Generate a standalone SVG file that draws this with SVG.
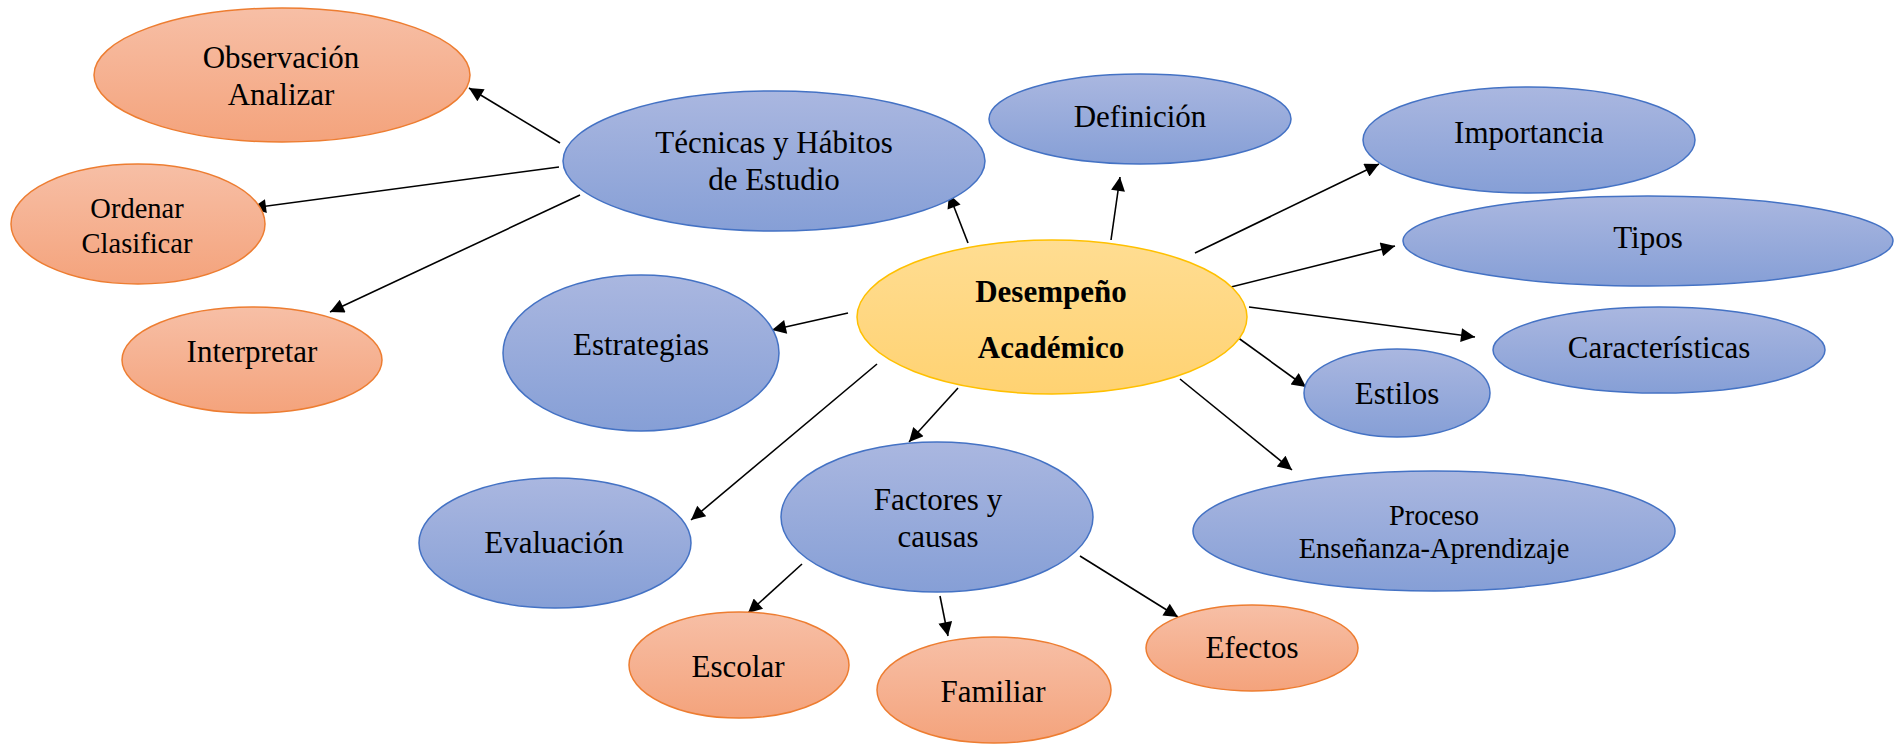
<svg xmlns="http://www.w3.org/2000/svg" width="1902" height="744" viewBox="0 0 1902 744">
<defs>
<linearGradient id="gb" x1="0" y1="0" x2="0" y2="1"><stop offset="0" stop-color="#AAB7E0"/><stop offset="1" stop-color="#869FD6"/></linearGradient>
<linearGradient id="go" x1="0" y1="0" x2="0" y2="1"><stop offset="0" stop-color="#F7BFA6"/><stop offset="1" stop-color="#F4A37C"/></linearGradient>
<linearGradient id="gy" x1="0" y1="0" x2="0" y2="1"><stop offset="0" stop-color="#FFDD92"/><stop offset="1" stop-color="#FFD272"/></linearGradient>
<marker id="ah" viewBox="0 0 10 10" refX="10" refY="5" markerWidth="17" markerHeight="14" markerUnits="userSpaceOnUse" orient="auto"><path d="M0,0 L10,5 L0,10 z" fill="#000"/></marker>
<style>
.b{fill:url(#gb);stroke:#4472C4;stroke-width:1.5}
.o{fill:url(#go);stroke:#ED7D31;stroke-width:1.5}
.y{fill:url(#gy);stroke:#FFC000;stroke-width:1.5}
text{font-family:"Liberation Serif","Times New Roman",serif;font-size:31px;fill:#000;text-anchor:middle}
.s{font-size:28.5px}
.bd{font-weight:bold}
.c line{stroke:#000;stroke-width:1.6;marker-end:url(#ah)}
</style>
</defs>
<g class="c" id="connectors">
<line x1="560" y1="143" x2="469" y2="88"/>
<line x1="559" y1="167" x2="252" y2="208"/>
<line x1="580" y1="195" x2="330" y2="312"/>
<line x1="968" y1="243" x2="949" y2="194"/>
<line x1="848" y1="313" x2="772" y2="330"/>
<line x1="1111" y1="240" x2="1120" y2="177"/>
<line x1="1195" y1="253" x2="1379" y2="164"/>
<line x1="1227" y1="288" x2="1395" y2="246"/>
<line x1="1249" y1="307" x2="1475" y2="337"/>
<line x1="1237" y1="337" x2="1306" y2="387"/>
<line x1="1180" y1="379" x2="1292" y2="470"/>
<line x1="877" y1="364" x2="691" y2="520"/>
<line x1="958" y1="388" x2="909" y2="442"/>
<line x1="802" y1="564" x2="748" y2="613"/>
<line x1="940" y1="596" x2="948" y2="636"/>
<line x1="1080" y1="556" x2="1178" y2="617"/>
</g>
<g id="observacion"><ellipse class="o" cx="282" cy="75" rx="188" ry="67"/><text x="281" y="68">Observación</text><text x="281" y="105">Analizar</text></g>
<g id="tecnicas"><ellipse class="b" cx="774" cy="161" rx="211" ry="70"/><text x="774" y="153">Técnicas y Hábitos</text><text x="774" y="190">de Estudio</text></g>
<g id="ordenar"><ellipse class="o" cx="138" cy="224" rx="127" ry="60"/><text class="s" x="137" y="218">Ordenar</text><text class="s" x="137" y="253">Clasificar</text></g>
<g id="interpretar"><ellipse class="o" cx="252" cy="360" rx="130" ry="53"/><text x="252" y="362">Interpretar</text></g>
<g id="estrategias"><ellipse class="b" cx="641" cy="353" rx="138" ry="78"/><text x="641" y="355">Estrategias</text></g>
<g id="desempeno"><ellipse class="y" cx="1052" cy="317" rx="195" ry="77"/><text class="bd" x="1051" y="302">Desempeño</text><text class="bd" x="1051" y="358">Académico</text></g>
<g id="definicion"><ellipse class="b" cx="1140" cy="119" rx="151" ry="45"/><text x="1140" y="127">Definición</text></g>
<g id="importancia"><ellipse class="b" cx="1529" cy="140" rx="166" ry="53"/><text x="1529" y="143">Importancia</text></g>
<g id="tipos"><ellipse class="b" cx="1648" cy="241" rx="245" ry="45"/><text x="1648" y="248">Tipos</text></g>
<g id="caracteristicas"><ellipse class="b" cx="1659" cy="350" rx="166" ry="43"/><text x="1659" y="358">Características</text></g>
<g id="estilos"><ellipse class="b" cx="1397" cy="393" rx="93" ry="44"/><text x="1397" y="404">Estilos</text></g>
<g id="proceso"><ellipse class="b" cx="1434" cy="531" rx="241" ry="60"/><text class="s" x="1434" y="525">Proceso</text><text class="s" x="1434" y="558">Enseñanza-Aprendizaje</text></g>
<g id="evaluacion"><ellipse class="b" cx="555" cy="543" rx="136" ry="65"/><text x="554" y="553">Evaluación</text></g>
<g id="factores"><ellipse class="b" cx="937" cy="517" rx="156" ry="75"/><text x="938" y="510">Factores y</text><text x="938" y="547">causas</text></g>
<g id="escolar"><ellipse class="o" cx="739" cy="665" rx="110" ry="53"/><text x="738" y="677">Escolar</text></g>
<g id="familiar"><ellipse class="o" cx="994" cy="690" rx="117" ry="53"/><text x="993" y="702">Familiar</text></g>
<g id="efectos"><ellipse class="o" cx="1252" cy="648" rx="106" ry="43"/><text x="1252" y="658">Efectos</text></g>
</svg>
